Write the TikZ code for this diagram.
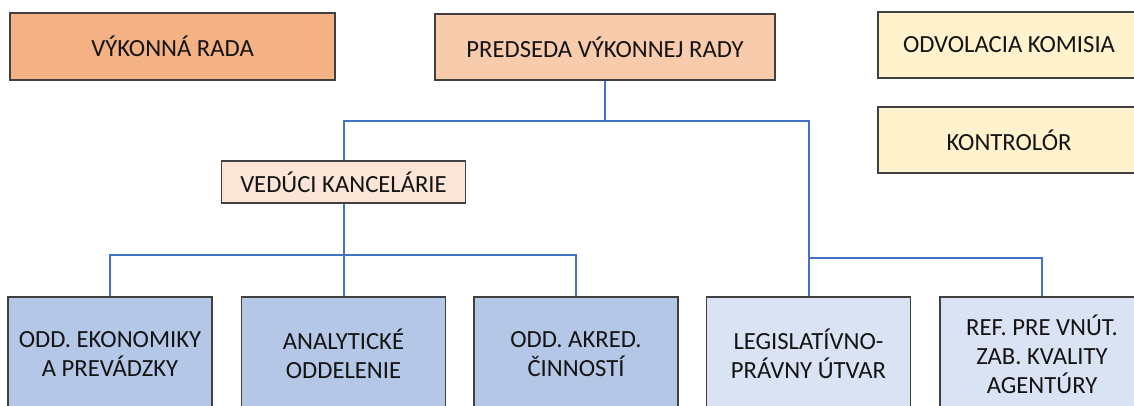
\documentclass[tikz,border=0pt]{standalone}
\usepackage{fontspec}
\setmainfont{Carlito}
\definecolor{orangeA}{HTML}{F4B183}
\definecolor{orangeB}{HTML}{F8CBAD}
\definecolor{orangeC}{HTML}{FBE5D6}
\definecolor{yellowA}{HTML}{FFF2CC}
\definecolor{blueA}{HTML}{B4C7E7}
\definecolor{blueB}{HTML}{DAE3F3}
\definecolor{lineblue}{HTML}{4472C4}
\definecolor{edge}{HTML}{404040}
\begin{document}
\begin{tikzpicture}[x=0.75pt,y=-0.75pt,
  box/.style={draw=edge,line width=0.9pt,inner sep=0pt,align=center,
    font=\fontsize{18.5}{21.6}\selectfont,text=black!92},
  conn/.style={draw=lineblue,line width=1.5pt}]
\useasboundingbox (0,0) rectangle (1134,405);
\node[box,fill=orangeA,minimum width=243.75pt,minimum height=50.25pt] (vr) at (172.5,46.5) {VÝKONNÁ RADA};
\node[box,fill=orangeB,minimum width=255pt,minimum height=49.5pt] (pr) at (605,47) {PREDSEDA VÝKONNEJ RADY};
\node[box,fill=yellowA,minimum width=196.5pt,minimum height=49.5pt] (ok) at (1009,45) {ODVOLACIA KOMISIA};
\node[box,fill=yellowA,minimum width=196.5pt,minimum height=49.5pt] (ko) at (1009,140) {KONTROLÓR};
\node[box,fill=orangeC,minimum width=183pt,minimum height=31.5pt] (vk) at (343.5,182) {VEDÚCI KANCELÁRIE};
\tikzset{bbox/.style={box,minimum width=153pt,minimum height=85.5pt}}
\node[bbox,fill=blueA] (b1) at (110,354) {ODD. EKONOMIKY\\A PREVÁDZKY};
\node[bbox,fill=blueA] (b2) at (343.5,354) {ANALYTICKÉ\\ODDELENIE};
\node[bbox,fill=blueA] (b3) at (576,354) {ODD. AKRED.\\ČINNOSTÍ};
\node[bbox,fill=blueB] (b4) at (808.5,354) {LEGISLATÍVNO-\\PRÁVNY ÚTVAR};
\node[bbox,fill=blueB] (b5) at (1042,354) {REF. PRE VNÚT.\\ZAB. KVALITY\\AGENTÚRY};
\coordinate (j1) at (605,121);
\coordinate (j2) at (808.5,258);
\coordinate (j3) at (343.5,255);
\draw[conn] (pr.south) -- (j1);
\draw[conn] (vk.north) |- (j1);
\draw[conn] (b4.north) |- (j1);
\draw[conn] (b5.north) |- (j2);
\draw[conn] (vk.south) -- (b2.north);
\draw[conn] (b1.north) |- (j3);
\draw[conn] (b3.north) |- (j3);
\end{tikzpicture}
\end{document}
